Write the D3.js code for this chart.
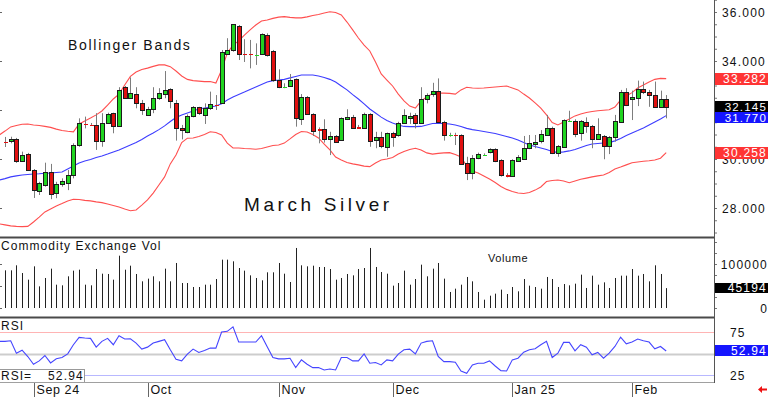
<!DOCTYPE html>
<html>
<head>
<meta charset="utf-8">
<script src="https://cdn.jsdelivr.net/npm/d3@7"></script>
<style>
body{margin:0;background:#fff;}
svg text{font-family:"Liberation Sans",Arial,sans-serif;}
</style>
</head>
<body>
<div id="chartDiv"></div>
<script>
// March Silver daily bars, late Aug 2024 .. 11 Feb 2025
let opens = [30.37,30.73,30.71,30.80,29.92,30.20,29.55,28.71,28.94,29.48,
	28.60,28.98,29.03,29.35,30.57,31.46,31.44,31.39,30.71,31.46,
	31.87,31.35,32.93,32.48,32.64,32.27,31.80,32.03,32.48,32.64,
	32.85,32.30,31.25,31.09,31.73,32.11,31.80,32.07,32.26,32.27,
	34.29,34.45,35.44,34.33,34.33,34.27,34.27,35.06,34.42,33.22,
	32.97,32.98,33.27,31.66,32.54,31.84,31.25,31.21,30.80,30.94,
	30.78,31.63,31.73,31.35,31.28,31.84,30.80,30.91,30.50,31.07,
	30.98,31.46,31.67,31.80,31.46,32.44,32.64,32.79,31.52,30.99,
	31.03,30.98,29.83,29.44,30.03,30.18,30.26,30.40,29.96,29.39,
	29.31,29.93,29.99,30.44,30.61,30.71,31.01,31.28,30.26,30.50,
	31.54,31.56,31.05,31.52,31.35,30.80,30.94,30.53,30.91,31.52,
	32.73,32.44,32.50,32.85,32.73,32.61,32.13,32.46];
let highs = [30.98,30.90,30.91,30.86,30.30,30.25,29.59,29.07,29.85,29.80,
	29.07,29.21,29.55,30.64,31.66,31.73,31.47,31.87,31.87,31.89,
	31.89,32.93,32.98,33.33,32.93,32.41,32.13,32.93,32.89,33.59,
	32.89,32.41,31.39,31.82,32.16,32.13,32.27,32.75,32.61,34.45,
	34.93,35.51,35.47,34.89,34.86,34.72,35.13,35.13,34.45,33.66,
	33.09,33.47,33.29,32.65,32.57,31.87,31.29,31.62,31.11,30.98,
	31.70,32.03,31.80,31.39,31.89,31.87,31.11,31.11,31.08,31.11,
	31.52,32.03,31.89,31.87,32.93,32.68,33.11,33.29,31.56,31.07,
	31.07,31.01,30.09,30.16,30.26,30.23,30.44,30.44,29.99,29.42,
	29.99,30.16,30.94,30.98,30.98,31.18,31.80,31.32,30.57,31.62,
	31.97,31.62,31.59,31.70,31.39,31.66,30.98,30.94,31.80,32.82,
	32.89,32.79,33.20,33.16,32.82,33.16,32.79,32.61];
let lows = [29.84,30.49,30.64,29.84,29.88,29.51,28.41,28.53,28.87,28.36,
	28.40,28.87,28.73,29.21,30.50,31.25,31.39,30.37,30.50,31.43,
	31.05,31.33,32.48,32.45,32.07,31.80,31.76,31.87,32.41,32.48,
	32.07,30.75,30.80,31.05,31.70,31.80,31.43,32.00,32.00,32.25,
	34.25,34.38,34.04,33.96,33.70,33.84,34.25,34.18,33.15,32.89,
	32.89,32.95,31.32,31.39,31.80,30.94,30.64,30.67,30.16,30.67,
	30.75,31.59,31.25,31.25,31.25,30.50,30.44,30.44,30.09,30.50,
	30.91,31.43,31.43,31.25,31.43,32.27,32.54,31.48,30.75,30.91,
	30.57,29.76,29.14,29.17,29.99,30.15,30.23,29.87,29.28,29.25,
	29.28,29.89,29.96,30.40,30.44,30.64,30.94,30.20,30.09,30.48,
	31.52,30.89,30.75,31.07,30.44,30.78,29.99,30.20,30.71,31.48,
	32.16,31.59,32.16,32.65,32.13,32.11,32.11,31.66];
let closes = [30.16,30.71,30.80,29.89,30.16,29.55,28.73,29.02,29.48,28.60,
	28.98,29.10,29.35,30.57,31.46,31.42,31.42,30.75,31.46,31.83,
	31.32,32.82,32.50,32.68,32.27,32.00,32.03,32.48,32.68,32.82,
	32.34,31.29,31.16,31.76,32.11,31.87,32.07,32.25,32.22,34.36,
	34.45,35.50,34.31,34.30,34.30,34.30,35.09,34.25,33.22,32.93,
	32.99,33.22,31.69,32.54,31.84,31.16,31.18,30.80,30.94,30.71,
	31.66,31.73,31.29,31.28,31.84,30.75,30.91,30.53,31.07,30.91,
	31.48,31.80,31.76,31.46,32.44,32.61,32.78,31.52,30.98,31.02,
	31.01,29.78,29.44,30.05,30.20,30.20,30.40,29.89,29.35,29.31,
	29.96,30.09,30.44,30.64,30.71,31.01,31.28,30.26,30.53,31.59,
	31.58,31.01,31.56,31.35,30.80,31.01,30.53,30.91,31.56,32.75,
	32.20,32.54,32.85,32.71,32.62,32.13,32.46,32.145];

let bbUpper = [30.98,31.14,31.31,31.37,31.42,31.43,31.39,31.37,31.33,31.29,
	31.22,31.16,31.13,31.11,31.43,31.55,31.67,31.80,31.96,32.20,
	32.45,32.65,33.02,33.37,33.55,33.65,33.71,33.78,33.84,33.84,
	33.77,33.59,33.39,33.25,33.20,33.18,33.16,33.16,33.10,33.63,
	34.33,34.65,34.82,35.06,35.27,35.47,35.63,35.67,35.74,35.79,
	35.81,35.78,35.76,35.76,35.80,35.86,35.90,35.96,36.01,35.98,
	35.88,35.59,35.27,34.94,34.65,34.41,33.96,33.47,33.22,32.98,
	32.65,32.37,32.16,32.08,32.37,32.53,32.67,32.69,32.69,32.68,
	32.65,32.82,32.93,32.90,32.89,32.90,32.92,32.94,32.96,32.98,
	32.90,32.82,32.65,32.49,32.29,32.08,31.80,31.49,31.39,31.51,
	31.63,31.76,31.84,31.90,31.94,31.97,31.99,32.01,32.12,32.41,
	32.57,32.71,32.90,33.02,33.14,33.25,33.29,33.282];
let bbMid = [29.14,29.20,29.27,29.31,29.35,29.37,29.39,29.40,29.42,29.43,
	29.45,29.47,29.59,29.71,29.84,29.92,29.98,30.06,30.12,30.20,
	30.29,30.37,30.47,30.57,30.67,30.80,30.94,31.06,31.20,31.35,
	31.53,31.69,31.80,31.88,31.96,32.04,32.08,32.12,32.16,32.25,
	32.41,32.53,32.63,32.73,32.84,32.94,33.04,33.14,33.20,33.22,
	33.25,33.31,33.37,33.43,33.43,33.43,33.39,33.33,33.25,33.14,
	32.98,32.82,32.63,32.45,32.25,32.04,31.88,31.71,31.57,31.47,
	31.39,31.33,31.32,31.32,31.33,31.39,31.45,31.46,31.45,31.43,
	31.39,31.33,31.25,31.20,31.16,31.12,31.08,31.04,30.98,30.92,
	30.86,30.78,30.67,30.57,30.51,30.45,30.39,30.31,30.26,30.29,
	30.33,30.39,30.47,30.55,30.61,30.63,30.65,30.67,30.74,30.84,
	30.96,31.06,31.16,31.27,31.39,31.51,31.63,31.770];
let bbLower = [27.35,27.31,27.27,27.25,27.24,27.25,27.43,27.63,27.84,27.96,
	28.08,28.18,28.29,28.36,28.35,28.31,28.29,28.25,28.22,28.16,
	28.10,28.04,27.96,27.89,27.92,28.12,28.33,28.61,28.94,29.27,
	29.80,30.16,30.67,30.85,30.86,30.92,31.00,31.11,31.08,30.98,
	30.65,30.45,30.45,30.43,30.42,30.40,30.43,30.49,30.55,30.57,
	30.65,30.82,31.00,31.12,31.10,31.00,30.86,30.61,30.37,30.08,
	29.96,29.86,29.80,29.76,29.71,29.69,29.84,29.96,30.00,30.06,
	30.20,30.31,30.39,30.44,30.37,30.25,30.20,30.23,30.25,30.26,
	30.18,30.08,29.71,29.51,29.43,29.31,29.18,29.04,28.88,28.76,
	28.67,28.61,28.59,28.63,28.73,28.86,29.08,29.12,29.14,29.10,
	29.03,29.10,29.17,29.22,29.27,29.31,29.35,29.45,29.59,29.67,
	29.76,29.85,29.88,29.91,29.93,29.96,30.03,30.258];

let volumes = [80000,85600,85600,97000,79500,64400,94700,49200,68200,89400,
	53000,51500,72000,84900,87100,53000,51500,88600,78000,77300,
	64400,118900,87100,96200,77300,60600,66700,72000,60600,89400,
	60600,102300,56800,56800,47700,47700,53000,53000,65900,109900,
	109900,106100,90900,84900,74200,68200,62900,81100,81100,102300,
	78000,59100,136400,97000,94700,96200,93200,93200,88600,64400,
	68200,77300,74200,88600,90900,136400,93200,81800,78000,50800,
	56800,84900,53000,65900,98500,72000,89400,102300,66700,36400,
	43900,53000,70500,60600,36400,18900,28000,32600,41700,31800,
	47700,37900,65900,50800,47700,43900,70500,65900,47700,54500,
	51500,55300,75800,45500,73500,53000,58300,45500,68200,73500,
	73500,88600,73500,77300,60600,97000,77300,45194];

let rsi = [64.1,64.1,64.8,50.4,53.9,46.5,37.5,41.4,47.7,39.1,
	43.8,45.3,49.6,60.2,68.8,68.0,67.6,57.4,64.1,67.6,
	60.2,70.7,66.8,67.2,62.1,55.1,57.4,62.1,64.1,66.0,
	54.3,43.4,41.4,49.2,55.1,51.2,53.5,56.3,56.3,75.0,
	75.8,80.9,63.3,63.3,63.3,63.3,70.7,57.8,45.3,43.8,
	43.8,44.5,33.6,42.6,37.5,33.6,33.6,30.9,32.0,30.9,
	45.3,45.3,41.4,41.4,49.6,38.7,39.5,36.7,42.6,41.4,
	49.2,54.3,55.1,49.6,62.1,64.1,64.8,46.5,40.6,40.6,
	39.8,29.7,27.0,36.7,38.7,38.7,41.4,35.5,30.1,29.7,
	42.6,44.5,51.6,54.3,55.5,60.2,64.1,45.3,50.4,62.9,
	62.9,53.1,60.2,57.4,48.4,51.2,44.5,50.4,58.2,69.1,
	61.3,63.3,66.8,64.8,63.3,55.5,58.2,52.94];

// first trading bar of each month
let monthTickBars = [6, 26, 49, 69, 90, 111];
let monthTickLabels = ['Sep 24', 'Oct', 'Nov', 'Dec', 'Jan 25', 'Feb'];
let priceTicks = [28, 30, 32, 34, 36];
let priceLabelTicks = [28, 30, 34, 36]; // 32.000 sits fully under the value boxes
let volTicks = [0, 100000];
let rsiTicks = [25, 75];

let W = 768, H = 399;
let plotRight = 714;
let fontSans = '"Liberation Sans",Arial,sans-serif';

var svg = d3.select('#chartDiv').append('svg')
	.attr('width', W)
	.attr('height', H)
	.style('display', 'block')
	.style('background', '#fff');

var x = d3.scaleLinear().domain([0, closes.length - 1]).range([-0.7, 666.2]);
var yPrice = d3.scaleLinear().domain([28, 36]).range([208, 12]);
var yVol = d3.scaleLinear().domain([0, 100000]).range([308, 264]);
var yRsi = d3.scaleLinear().domain([25, 75]).range([375, 332]);

var bars = d3.range(closes.length);
function px(i){ return Math.round(x(i)); }

var defs = svg.append('defs');
function addClip(id, y0, y1){
	defs.append('clipPath').attr('id', id)
		.append('rect').attr('x', 0).attr('y', y0)
		.attr('width', plotRight).attr('height', y1 - y0);
}
addClip('priceClip', 0, 236);
addClip('volClip', 239, 316);
addClip('rsiClip', 319, 382);

function label(g, txt, xx, yy, size, spacing){
	return g.append('text')
		.attr('x', xx).attr('y', yy)
		.style('font-size', size + 'px')
		.style('letter-spacing', spacing + 'px')
		.attr('fill', '#111')
		.text(txt);
}

function drawPrice(){
	var g = svg.append('g').attr('clip-path', 'url(#priceClip)');

	// left edge ticks
	g.selectAll('line.lt').data(priceTicks).enter().append('line')
		.attr('x1', 0).attr('x2', 2)
		.attr('y1', function(d){return Math.round(yPrice(d)) + 0.5})
		.attr('y2', function(d){return Math.round(yPrice(d)) + 0.5})
		.attr('stroke', '#666');

	var bandLine = function(arr){
		return d3.line().x(function(d, i){return x(i)}).y(function(d){return yPrice(d)})(arr);
	};
	g.append('path').attr('d', bandLine(bbUpper)).attr('fill', 'none').attr('stroke', '#ff4f4f').attr('stroke-width', 1.1);
	g.append('path').attr('d', bandLine(bbLower)).attr('fill', 'none').attr('stroke', '#ff4f4f').attr('stroke-width', 1.1);
	g.append('path').attr('d', bandLine(bbMid)).attr('fill', 'none').attr('stroke', '#3d3dff').attr('stroke-width', 1.1);

	var c = g.selectAll('g.candle').data(bars).enter().append('g').attr('class', 'candle');
	c.append('line')
		.attr('x1', function(i){return px(i) + 0.5})
		.attr('x2', function(i){return px(i) + 0.5})
		.attr('y1', function(i){return yPrice(highs[i])})
		.attr('y2', function(i){return yPrice(lows[i])})
		.attr('stroke', '#7d7d7d')
		.attr('stroke-width', 1);
	// bar 0 is cut by the left edge: only its wick shows
	c.filter(function(i){return px(i) > 0}).append('rect')
		.attr('x', function(i){return px(i) - 1.5})
		.attr('width', 4)
		.attr('y', function(i){return Math.round(yPrice(Math.max(opens[i], closes[i]))) + 0.5})
		.attr('height', function(i){
			var h = Math.round(Math.abs(yPrice(opens[i]) - yPrice(closes[i])));
			return Math.max(h, 1);
		})
		.attr('fill', function(i){return closes[i] >= opens[i] ? '#20d420' : '#e01010'})
		.attr('stroke', function(i){
			var h = Math.abs(yPrice(opens[i]) - yPrice(closes[i]));
			if (h < 2) return 'none';
			return '#1c1c1c';
		})
		.attr('stroke-width', 1)
		.attr('shape-rendering', 'crispEdges');

	label(svg, 'Bollinger Bands', 68, 50, 14, 1.7);
	label(svg, 'March Silver', 244, 211, 19, 3.6);
}

function drawVolume(){
	var g = svg.append('g').attr('clip-path', 'url(#volClip)');
	g.selectAll('line.v').data(bars).enter().append('line')
		.attr('x1', function(i){return px(i) + 0.5})
		.attr('x2', function(i){return px(i) + 0.5})
		.attr('y1', yVol(0))
		.attr('y2', function(i){return yVol(volumes[i])})
		.attr('stroke', '#222')
		.attr('stroke-width', 1);
	g.selectAll('line.lt').data([0, 50000, 100000]).enter().append('line')
		.attr('x1', 0).attr('x2', 2)
		.attr('y1', function(d){return Math.round(yVol(d)) + 0.5})
		.attr('y2', function(d){return Math.round(yVol(d)) + 0.5})
		.attr('stroke', '#666');

	label(svg, 'Commodity Exchange Vol', 1, 250, 12, 1.05);
	label(svg, 'Volume', 488, 262, 11, 0.6);
}

function drawRsi(){
	var g = svg.append('g').attr('clip-path', 'url(#rsiClip)');
	var guides = [[75, '#ffb4b4', 1], [50, '#cdcdcd', 2], [25, '#b8b8ff', 1]];
	g.selectAll('line.guide').data(guides).enter().append('line')
		.attr('x1', 0).attr('x2', plotRight)
		.attr('y1', function(d){return Math.round(yRsi(d[0])) + 0.5})
		.attr('y2', function(d){return Math.round(yRsi(d[0])) + 0.5})
		.attr('stroke', function(d){return d[1]})
		.attr('stroke-width', function(d){return d[2]});

	g.append('path')
		.attr('d', d3.line().x(function(d, i){return x(i)}).y(function(d){return yRsi(d)})(rsi))
		.attr('fill', 'none')
		.attr('stroke', '#4545ff')
		.attr('stroke-width', 1.1);

	label(svg, 'RSI', 1, 330, 12, 1);

	// current value readout box
	svg.append('rect').attr('x', -1.5).attr('y', 369.5).attr('width', 86).attr('height', 13)
		.attr('fill', '#fff').attr('stroke', '#999');
	label(svg, 'RSI=', 1, 380, 12, 1);
	label(svg, d3.format('.2f')(rsi[rsi.length - 1]), 84, 380, 12, 1.2).attr('text-anchor', 'end');
}

function drawFrame(){
	svg.append('line').attr('x1', 0).attr('x2', plotRight).attr('y1', 237.5).attr('y2', 237.5)
		.attr('stroke', '#4a4a4a').attr('stroke-width', 2);
	svg.append('line').attr('x1', 0).attr('x2', plotRight).attr('y1', 317.5).attr('y2', 317.5)
		.attr('stroke', '#4a4a4a').attr('stroke-width', 2);
	svg.append('line').attr('x1', 0).attr('x2', plotRight).attr('y1', 382.5).attr('y2', 382.5)
		.attr('stroke', '#a0a0a0').attr('stroke-width', 1);
	svg.append('line').attr('x1', plotRight + 0.5).attr('x2', plotRight + 0.5).attr('y1', 0).attr('y2', 383)
		.attr('stroke', '#555').attr('stroke-width', 1);
}

function styleAxis(g, size){
	g.select('.domain').remove();
	g.selectAll('text')
		.style('font-family', fontSans)
		.style('font-size', size + 'px')
		.style('letter-spacing', '1.2px')
		.attr('fill', '#111');
	g.selectAll('line').attr('stroke', '#555');
}

function drawAxes(){
	// minor ticks on the right edge
	var minorP = svg.append('g').attr('transform', 'translate(' + (plotRight + 1) + ',0)')
		.call(d3.axisRight(yPrice).tickValues(d3.range(27, 36.6, 0.5)).tickSize(2).tickFormat(''));
	minorP.select('.domain').remove();
	minorP.selectAll('line').attr('stroke', '#777');
	var minorV = svg.append('g').attr('transform', 'translate(' + (plotRight + 1) + ',0)')
		.call(d3.axisRight(yVol).tickValues([0, 25000, 50000, 75000, 100000, 125000, 150000]).tickSize(2).tickFormat(''));
	minorV.select('.domain').remove();
	minorV.selectAll('line').attr('stroke', '#777');

	var pa = svg.append('g').attr('transform', 'translate(' + plotRight + ',0)')
		.call(d3.axisRight(yPrice).tickValues(priceLabelTicks).tickSize(0).tickPadding(8).tickFormat(d3.format('.3f')));
	styleAxis(pa, 12);
	pa.selectAll('text').attr('dy', '0.36em');

	var va = svg.append('g').attr('transform', 'translate(' + plotRight + ',0)')
		.call(d3.axisRight(yVol).tickValues(volTicks).tickSize(0).tickFormat(d3.format('d')));
	styleAxis(va, 12);
	va.selectAll('text').attr('text-anchor', 'end').attr('x', 54).attr('dy', '0.36em');

	var ra = svg.append('g').attr('transform', 'translate(' + plotRight + ',0)')
		.call(d3.axisRight(yRsi).tickValues(rsiTicks).tickSize(0).tickPadding(16));
	styleAxis(ra, 12);
	ra.selectAll('text').attr('dy', '0.36em');

	var da = svg.append('g').attr('transform', 'translate(0,383)')
		.call(d3.axisBottom(x).tickValues(monthTickBars).tickSize(14)
			.tickFormat(function(d, i){return monthTickLabels[i]}));
	da.select('.domain').remove();
	da.selectAll('.tick').attr('transform', function(d){return 'translate(' + (px(d) + 0.5) + ',0)'});
	da.selectAll('line').attr('stroke', '#666');
	da.selectAll('text')
		.attr('text-anchor', 'start')
		.attr('x', 2).attr('y', 11).attr('dy', null)
		.style('font-family', fontSans)
		.style('font-size', '12.5px')
		.style('letter-spacing', '0.6px')
		.attr('fill', '#111');
}

function valueBox(yc, h, fill, txt, size){
	svg.append('rect')
		.attr('x', plotRight + 1).attr('y', Math.round(yc - h / 2))
		.attr('width', W - plotRight - 1).attr('height', h)
		.attr('fill', fill);
	svg.append('text')
		.attr('x', 767).attr('y', yc).attr('dy', '0.36em')
		.attr('text-anchor', 'end')
		.style('font-size', (size || 12) + 'px')
		.style('letter-spacing', '1.2px')
		.attr('fill', '#fff')
		.text(txt);
}

function drawValueBoxes(){
	var n = closes.length - 1;
	var f3 = d3.format('.3f');
	valueBox(yPrice(bbUpper[n]), 12, '#ff3434', f3(bbUpper[n]));
	valueBox(yPrice(bbLower[n]), 12, '#ff3434', f3(bbLower[n]));
	var yc = yPrice(closes[n]);
	valueBox(yc, 11, '#000', f3(closes[n]), 11.5);
	var ym = yPrice(bbMid[n]);
	if (Math.abs(ym - yc) < 12) ym = yc + 11;
	valueBox(ym, 11, '#1515ff', f3(bbMid[n]), 11.5);
	valueBox(yVol(volumes[n]) - 0.5, 10, '#000', d3.format('d')(volumes[n]));
	valueBox(yRsi(rsi[n]), 11, '#1515ff', d3.format('.2f')(rsi[n]));

	// scroll arrow in the corner
	svg.append('path')
		.attr('d', 'M758,389.5 L762,386 L762,388.5 L767,388.5 L767,390.5 L762,390.5 L762,393 Z')
		.attr('fill', '#ee1111');
}

drawPrice();
drawVolume();
drawRsi();
drawFrame();
drawAxes();
drawValueBoxes();
</script>
</body>
</html>
